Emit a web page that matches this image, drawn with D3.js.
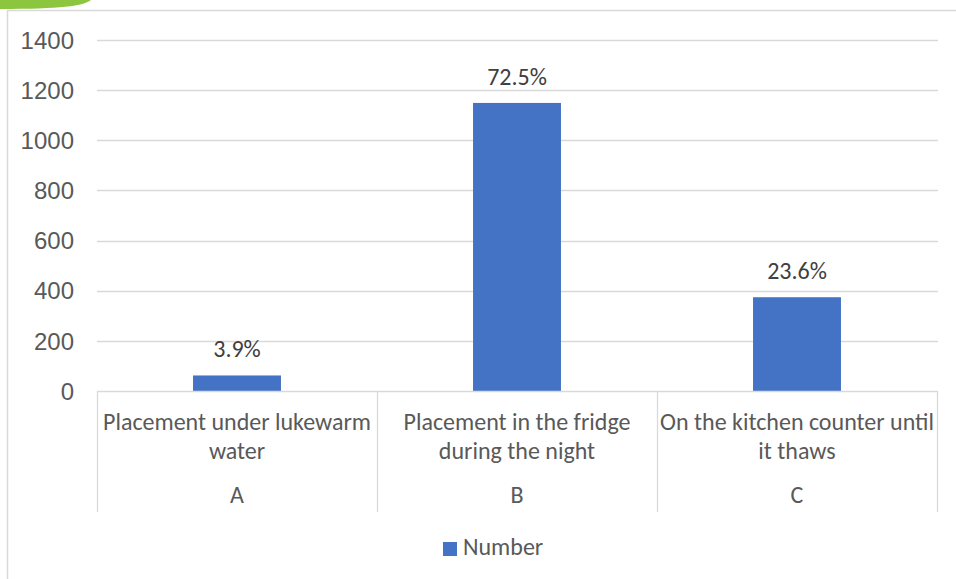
<!DOCTYPE html>
<html>
<head>
<meta charset="utf-8">
<script src="https://cdn.jsdelivr.net/npm/d3@7"></script>
<style>
  html, body { margin: 0; padding: 0; background: #ffffff; }
  svg { display: block; font-family: Carlito, Lato, "Open Sans", sans-serif; }
</style>
</head>
<body>
<svg id="chart" width="956" height="579"></svg>
<script>
// Thawing methods: respondents per method
const categories = ["A", "B", "C"];
const categoryLabels = [
  ["Placement under lukewarm", "water"],
  ["Placement in the fridge", "during the night"],
  ["On the kitchen counter until", "it thaws"]
];
const counts = [62, 1149, 374];
const percentLabels = ["3.9%", "72.5%", "23.6%"];
const yTicks = [0, 200, 400, 600, 800, 1000, 1200, 1400];
const seriesName = "Number";

const W = 956, H = 579;
const plot = { left: 97, right: 937, top: 40, bottom: 391 };
const barColor = "#4472C4";
const gridColor = "#d9d9d9";
const fontSize = "24px";

const svg = d3.select("#chart");

// Decorative green tab in the top-left corner
svg.append("path")
  .attr("d", "M0,0 H91 C84,6 60,9 0,9 Z")
  .attr("fill", "#8cc63e");

// Chart area frame (top and left edges visible)
svg.append("path")
  .attr("d", `M7.5,${H} V10.5 H${W}`)
  .attr("fill", "none")
  .attr("stroke", gridColor)
  .attr("stroke-width", 1.5);

const y = d3.scaleLinear().domain([0, 1400]).range([plot.bottom, plot.top]);
const xCat = d3.scaleBand().domain(categories).range([plot.left, plot.right]).padding(0);
const xBar = d3.scaleBand().domain(categories).range([plot.left, plot.right])
  .paddingInner(0.686).paddingOuter(0.343);

// Horizontal gridlines
svg.append("g")
  .selectAll("line")
  .data(yTicks.filter(d => d > 0))
  .join("line")
  .attr("x1", plot.left).attr("x2", plot.right + 1)
  .attr("y1", d => Math.round(y(d)) + 0.5).attr("y2", d => Math.round(y(d)) + 0.5)
  .attr("stroke", gridColor).attr("stroke-width", 1.3);

// Y axis labels
const yAxis = d3.axisLeft(y).tickValues(yTicks).tickFormat(d3.format("d"))
  .tickSize(0).tickPadding(0);
const yg = svg.append("g").attr("transform", `translate(74,0)`).call(yAxis);
yg.select(".domain").remove();
yg.selectAll("text")
  .attr("fill", "#595959")
  .style("font-size", fontSize)
  .attr("dy", "0.34em");

// Bars
svg.append("g")
  .selectAll("rect")
  .data(counts)
  .join("rect")
  .attr("x", (d, i) => xBar(categories[i]))
  .attr("width", xBar.bandwidth())
  .attr("y", d => y(d))
  .attr("height", d => y(0) - y(d))
  .attr("fill", barColor);

// Value labels above bars
svg.append("g")
  .selectAll("text")
  .data(counts)
  .join("text")
  .attr("x", (d, i) => xCat(categories[i]) + xCat.bandwidth() / 2)
  .attr("y", d => y(d) - 18)
  .attr("text-anchor", "middle")
  .attr("fill", "#404040")
  .style("font-size", fontSize)
  .text((d, i) => percentLabels[i]);

// Category axis: baseline and group separators
svg.append("line")
  .attr("x1", plot.left).attr("x2", plot.right + 1)
  .attr("y1", plot.bottom + 0.5).attr("y2", plot.bottom + 0.5)
  .attr("stroke", gridColor).attr("stroke-width", 1.3);

const sepX = categories.map(c => xCat(c)).concat([plot.right]);
svg.append("g")
  .selectAll("line")
  .data(sepX)
  .join("line")
  .attr("x1", d => d + 0.5).attr("x2", d => d + 0.5)
  .attr("y1", plot.bottom).attr("y2", 512)
  .attr("stroke", gridColor).attr("stroke-width", 1.3);

// Category labels (description lines, then the letter)
const catG = svg.append("g")
  .selectAll("g")
  .data(categories)
  .join("g")
  .attr("transform", d => `translate(${xCat(d) + xCat.bandwidth() / 2},0)`);

catG.each(function (d, i) {
  const g = d3.select(this);
  categoryLabels[i].forEach((line, j) => {
    g.append("text")
      .attr("y", 430 + j * 29)
      .attr("text-anchor", "middle")
      .attr("fill", "#595959")
      .style("font-size", fontSize)
      .text(line);
  });
  g.append("text")
    .attr("y", 503)
    .attr("text-anchor", "middle")
    .attr("fill", "#595959")
    .style("font-size", fontSize)
    .text(d);
});

// Legend
const lg = svg.append("g").attr("transform", "translate(443,542)");
lg.append("rect").attr("width", 14).attr("height", 14).attr("fill", barColor);
lg.append("text")
  .attr("x", 20).attr("y", 13)
  .attr("fill", "#595959")
  .style("font-size", fontSize)
  .text(seriesName);
</script>
</body>
</html>
